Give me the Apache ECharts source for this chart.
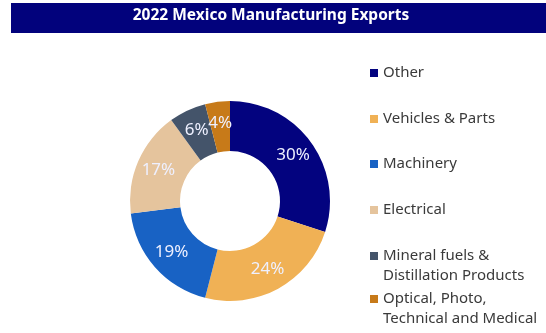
<!DOCTYPE html>
<html>
<head>
<meta charset="utf-8">
<script src="https://cdn.jsdelivr.net/npm/echarts@6/dist/echarts.min.js"></script>
<style>
  html, body { margin: 0; padding: 0; background: #fff; }
  #chart { width: 546px; height: 333px; }
</style>
</head>
<body>
<div id="chart"></div>
<script>
// 2022 Mexico manufacturing exports, share by category (%)
var categories = [
  'Other',
  'Vehicles & Parts',
  'Machinery',
  'Electrical',
  'Mineral fuels &\nDistillation Products',
  'Optical, Photo,\nTechnical and Medical'
];
var shares = [30, 24, 19, 17, 6, 4];
var colors = ['#03037f', '#f0b155', '#1862c4', '#e5c49d', '#44546a', '#c77a19'];
var titleText = '2022 Mexico Manufacturing Exports';

var chart = echarts.init(document.getElementById('chart'), null, { renderer: 'canvas' });

var font = 'Noto Sans';

// one legend block per category so each entry sits at its own row;
// two-line names get an empty leading line so the swatch lines up with the first line
var legendRowCenters = [73, 119, 164, 210, 256, 299];
var legends = categories.map(function (name, i) {
  var multiLine = name.indexOf('\n') >= 0;
  var lh = multiLine ? 19.5 : 18;
  var lines = multiLine ? 3 : 1;
  return {
    orient: 'vertical',
    left: 370,
    top: legendRowCenters[i] - lh * lines / 2,
    padding: 0,
    itemWidth: 8,
    itemHeight: 8,
    itemGap: 0,
    icon: 'rect',
    selectedMode: false,
    data: [name],
    formatter: function (n) {
      return n.indexOf('\n') >= 0 ? ' \n' + n : n;
    },
    textStyle: {
      fontFamily: font,
      fontSize: 15,
      color: '#3a3a3a',
      lineHeight: lh
    }
  };
});

chart.setOption({
  animation: false,
  color: colors,
  graphic: [{
    type: 'rect',
    shape: { x: 11, y: 3, width: 535, height: 30 },
    style: { fill: '#02027c' },
    z: 0
  }],
  title: {
    text: titleText,
    left: 271,
    textAlign: 'center',
    top: 8,
    padding: 0,
    textStyle: {
      fontFamily: font,
      fontWeight: 'bold',
      fontSize: 15.5,
      color: '#ffffff'
    },
    z: 10
  },
  legend: legends,
  series: [{
    type: 'pie',
    center: [230, 201],
    radius: [50, 100],
    startAngle: 90,
    clockwise: true,
    avoidLabelOverlap: false,
    silent: true,
    minShowLabelAngle: 0,
    label: {
      show: true,
      position: 'inside',
      rotate: 0,
      formatter: '{c}%',
      color: '#eef0ff',
      fontFamily: font,
      fontSize: 17
    },
    labelLayout: { hideOverlap: false },
    labelLine: { show: false },
    itemStyle: { borderWidth: 0 },
    data: categories.map(function (name, i) {
      return { name: name, value: shares[i] };
    })
  }]
});
</script>
</body>
</html>
